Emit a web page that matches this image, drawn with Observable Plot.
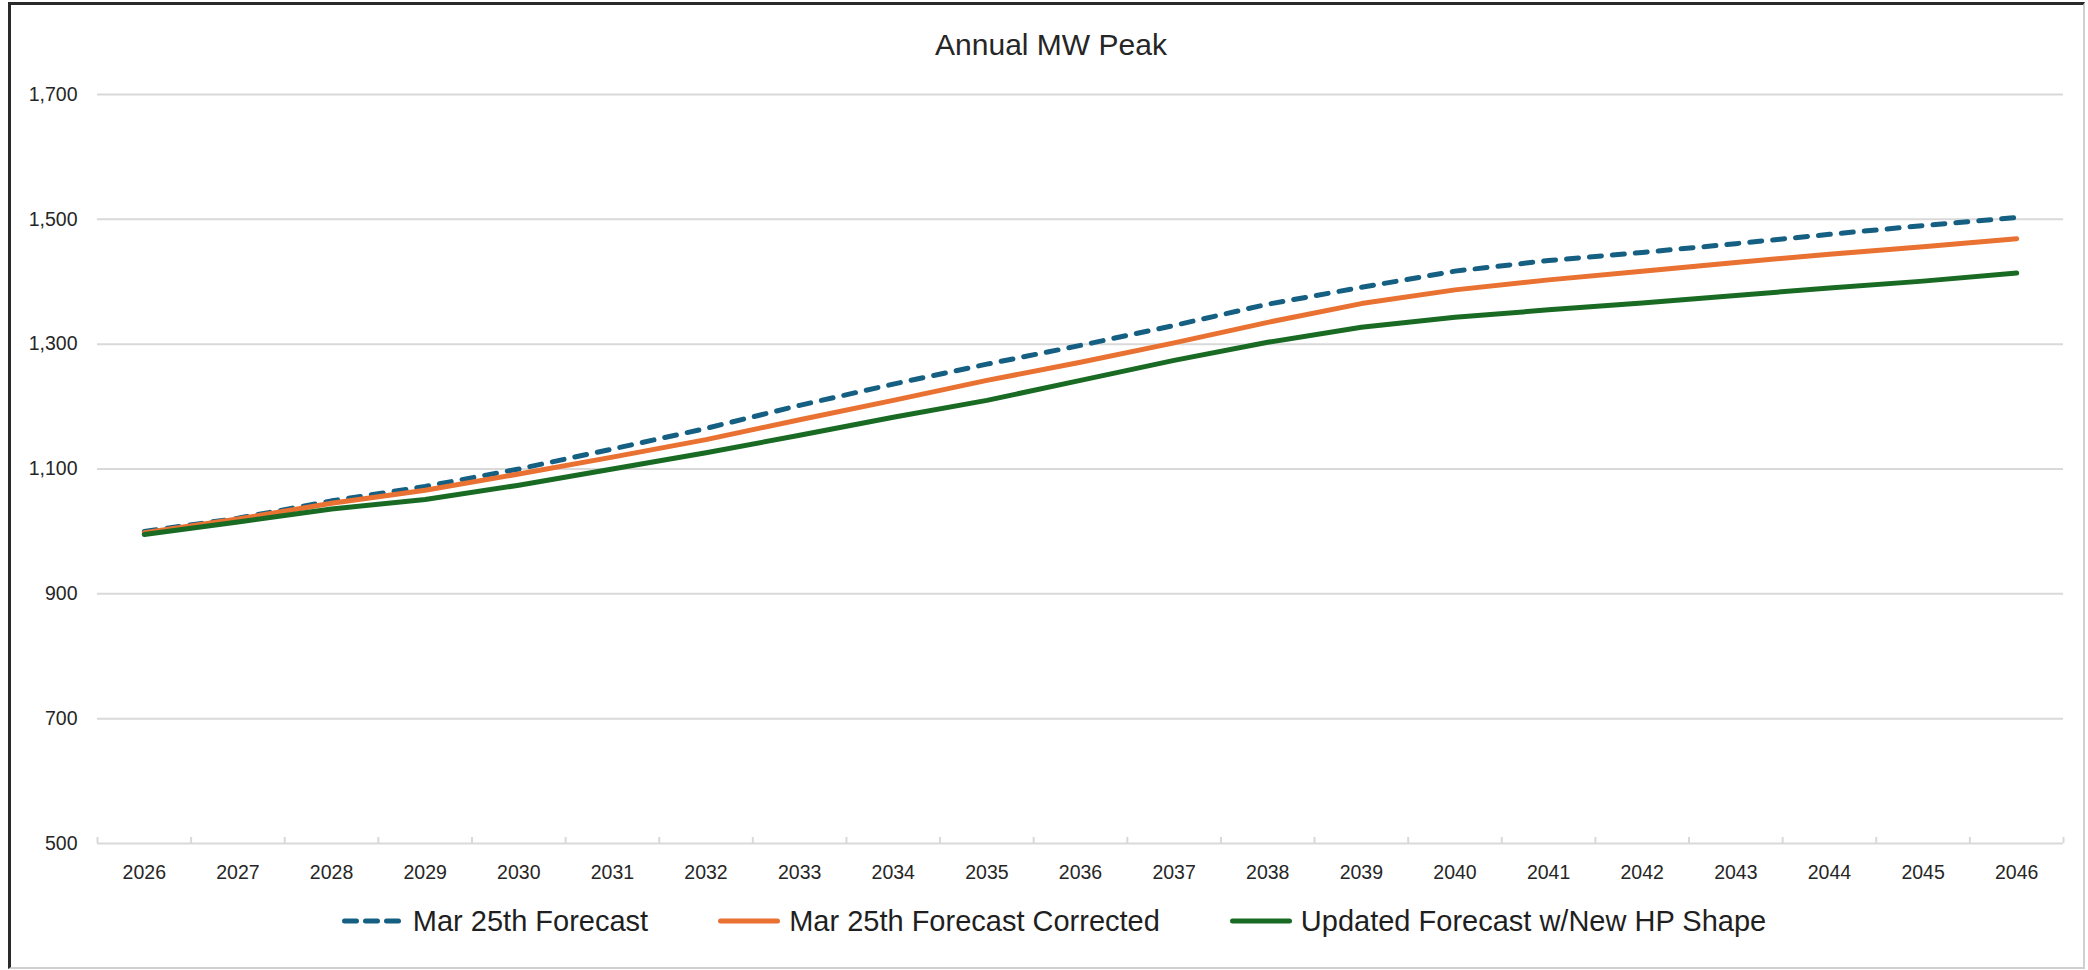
<!DOCTYPE html>
<html>
<head>
<meta charset="utf-8">
<script src="https://cdn.jsdelivr.net/npm/d3@7"></script>
<script src="https://cdn.jsdelivr.net/npm/@observablehq/plot@0.6"></script>
<style>
  html, body { margin: 0; padding: 0; background: #ffffff; }
  #page { position: relative; width: 2088px; height: 970px; overflow: hidden; background: #ffffff;
          font-family: "Liberation Sans", Arial, sans-serif; color: #262626; }
  #frame { position: absolute; left: 8px; top: 2px; width: 2077px; height: 967px; box-sizing: border-box;
           border-left: 3px solid #2a2a2a; border-top: 3px solid #2a2a2a;
           border-right: 2px solid #d0d0d0; border-bottom: 2px solid #d0d0d0; }
  #title { position: absolute; left: 14px; width: 2074px; top: 30px; text-align: center;
           font-size: 30px; line-height: 1; color: #262626; }
  #chart { position: absolute; left: 0; top: 64px; }
  #legend { position: absolute; left: 0; width: 2108px; top: 894px; height: 54px;
            display: flex; justify-content: center; align-items: center; gap: 70px;
            font-family: "Liberation Sans", Arial, sans-serif;
            font-size: 29px; color: #1f1f1f; }
  .item { display: flex; align-items: center; gap: 9px; white-space: nowrap; }
  .item svg { display: block; }
</style>
</head>
<body>
<div id="page">
  <div id="frame"></div>
  <div id="title">Annual MW Peak</div>
  <div id="chart"></div>
  <div id="legend"></div>
</div>
<script>
// ---- data ----
const years = [2026, 2027, 2028, 2029, 2030, 2031, 2032, 2033, 2034, 2035, 2036,
               2037, 2038, 2039, 2040, 2041, 2042, 2043, 2044, 2045, 2046];
const mar25Forecast = [1000, 1021, 1049, 1072, 1100, 1132, 1165, 1202, 1236, 1268, 1298,
                       1330, 1364, 1391, 1417, 1434, 1447, 1461, 1476, 1490, 1503];
const mar25Corrected = [998, 1020, 1045, 1066, 1092, 1119, 1147, 1179, 1210, 1242, 1271,
                        1302, 1335, 1365, 1387, 1403, 1417, 1431, 1444, 1456, 1469];
const updatedHPShape = [995, 1015, 1036, 1051, 1074, 1100, 1126, 1154, 1183, 1210, 1242,
                        1274, 1303, 1327, 1343, 1355, 1366, 1378, 1390, 1401, 1414];
const yTicks = [500, 700, 900, 1100, 1300, 1500, 1700];
const seriesNames = ["Mar 25th Forecast", "Mar 25th Forecast Corrected", "Updated Forecast w/New HP Shape"];
const seriesColors = ["#156082", "#E97132", "#196B24"];
const seriesDash = ["12,11", null, null];

// ---- build ----
const seriesValues = [mar25Forecast, mar25Corrected, updatedHPShape];
const rows = vals => years.map((yr, i) => ({year: yr, value: vals[i]}));
const boundaries = [...years.map(y => y - 0.5), years[years.length - 1] + 0.5];

const lineMarks = seriesValues.map((vals, k) =>
  Plot.line(rows(vals), {
    x: "year", y: "value",
    stroke: seriesColors[k], strokeWidth: 5,
    strokeDasharray: seriesDash[k] || undefined,
    strokeLinecap: "round", strokeLinejoin: "round"
  })
);

const chart = Plot.plot({
  width: 2088,
  height: 830,
  marginTop: 30,
  marginBottom: 51,
  marginLeft: 97,
  marginRight: 25,
  style: {fontFamily: "'Liberation Sans', Arial, sans-serif", fontSize: "19.5px", color: "#262626",
          background: "transparent", overflow: "visible"},
  x: {domain: [boundaries[0], boundaries[boundaries.length - 1]], axis: null, label: null},
  y: {domain: [yTicks[0], yTicks[yTicks.length - 1]], axis: null, label: null},
  marks: [
    Plot.ruleY(yTicks, {stroke: "#d9d9d9", strokeWidth: 2}),
    Plot.ruleX(boundaries, {x: d => d, y1: yTicks[0], y2: yTicks[0], insetBottom: 6,
                            stroke: "#d9d9d9", strokeWidth: 2}),
    Plot.axisY({ticks: yTicks, tickSize: 0, tickPadding: 20, tickFormat: d3.format(","), label: null}),
    Plot.axisX({ticks: years, tickSize: 0, tickPadding: 22, tickFormat: d => String(d), label: null}),
    ...lineMarks
  ]
});
document.getElementById("chart").appendChild(chart);

// ---- legend ----
const legend = document.getElementById("legend");
seriesNames.forEach((name, k) => {
  const item = document.createElement("div");
  item.className = "item";
  const dash = seriesDash[k] ? ` stroke-dasharray="12,9"` : "";
  item.innerHTML = `<svg width="62" height="12"><line x1="2.5" y1="6" x2="59.5" y2="6" stroke="${seriesColors[k]}" stroke-width="5" stroke-linecap="round"${dash}/></svg><span>${name}</span>`;
  legend.appendChild(item);
});
</script>
</body>
</html>
